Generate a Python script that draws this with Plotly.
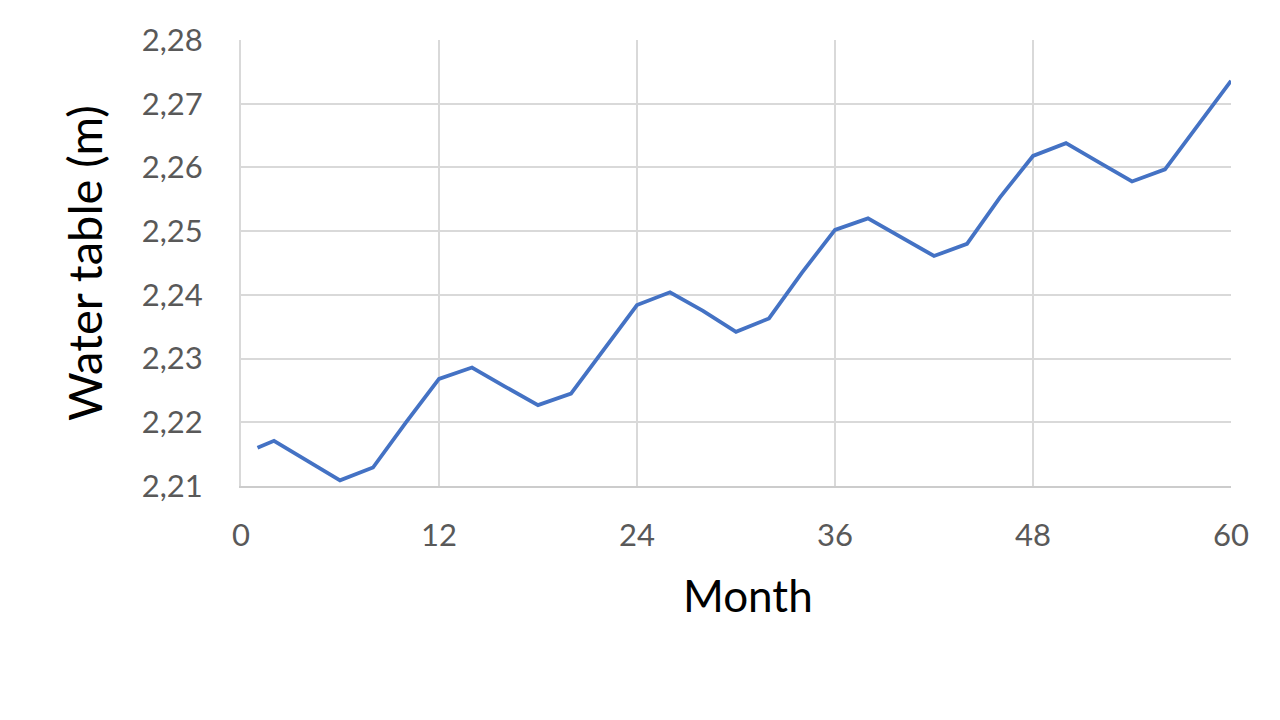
import plotly.graph_objects as go

months = [1, 2, 4, 6, 8, 10, 12, 14, 16, 18, 20, 22, 24, 26, 28, 30, 32, 34, 36,
          38, 40, 42, 44, 46, 48, 50, 52, 54, 56, 58, 60]
water_table = [2.2160, 2.2171, 2.2140, 2.2109, 2.2129, 2.2200, 2.2268, 2.2286, 2.2256,
               2.2227, 2.2245, 2.2315, 2.2384, 2.2404, 2.2375, 2.2342, 2.2363, 2.2435,
               2.2502, 2.2520, 2.2490, 2.2461, 2.2480, 2.2553, 2.2618, 2.2638, 2.2608,
               2.2578, 2.2597, 2.2667, 2.2736]

x_ticks = [0, 12, 24, 36, 48, 60]
y_ticks = [2.21, 2.22, 2.23, 2.24, 2.25, 2.26, 2.27, 2.28]

FONT = "Lato"

fig = go.Figure()
fig.add_trace(go.Scatter(
    x=months, y=water_table, mode="lines",
    line=dict(color="#4472C4", width=3.8),
    showlegend=False,
))

fig.update_layout(
    width=1280, height=720,
    paper_bgcolor="white", plot_bgcolor="white",
    separators=", ",
    margin=dict(l=233, r=57, t=26, b=242),
    font=dict(family=FONT, color="#595959"),
    xaxis=dict(
        range=[0, 60], tickvals=x_ticks, ticktext=[str(v) for v in x_ticks],
        showgrid=True, gridcolor="#d9d9d9", gridwidth=2,
        showline=True, linecolor="#cccccc", linewidth=2,
        zeroline=False, ticks="", ticklabelstandoff=21,
        tickfont=dict(family=FONT, size=31, color="#595959"),
    ),
    yaxis=dict(
        range=[2.21, 2.28], tickvals=y_ticks, tickformat=".2f",
        showgrid=True, gridcolor="#d9d9d9", gridwidth=2,
        showline=True, linecolor="#d9d9d9", linewidth=2,
        zeroline=False, ticks="", ticklabelstandoff=30,
        tickfont=dict(family=FONT, size=31, color="#595959"),
        title=dict(text="Water table (m)", font=dict(family=FONT, size=47, color="black"), standoff=24),
    ),
    annotations=[dict(
        text="Month", xref="paper", yref="paper", x=0.512, y=-0.245,
        xanchor="center", yanchor="middle", showarrow=False,
        font=dict(family=FONT, size=44, color="black"),
    )],
)

fig.write_html("out.html")
